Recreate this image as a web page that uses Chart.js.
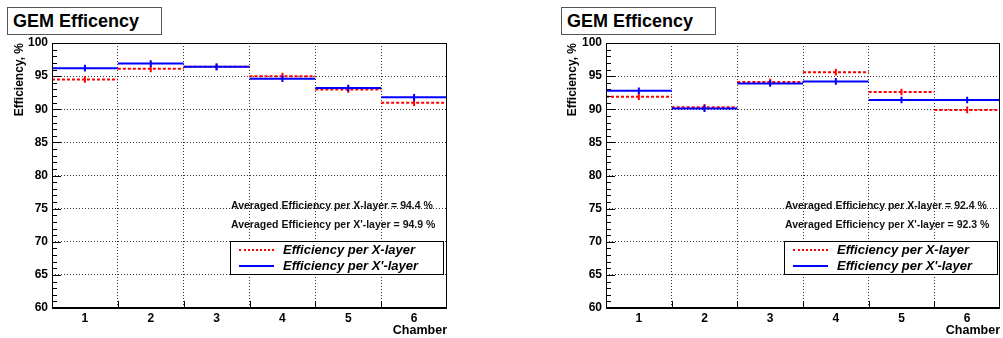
<!DOCTYPE html>
<html>
<head>
<meta charset="utf-8">
<script src="https://cdn.jsdelivr.net/npm/chart.js@4/dist/chart.umd.min.js"></script>
<style>
  body { margin: 0; background: #fff; width: 1003px; height: 338px; overflow: hidden; position: relative;
         font-family: "Liberation Sans", Arial, Helvetica, sans-serif; }
  canvas { position: absolute; top: 0; }
  .titlebox { position: absolute; top: 7px; width: 148px; height: 26px; border: 1px solid #555;
              font-weight: bold; font-size: 18px; line-height: 27px; padding-left: 5px; box-sizing: content-box; background: #fff; }
  .note { position: absolute; font-weight: bold; font-size: 10.5px; white-space: nowrap; color: #111; }
  .legend { position: absolute; top: 241px; height: 32px; border: 1px solid #000; background: #fff; }
  .legend .row { position: absolute; left: 0; height: 16px; width: 100%; }
  .legend .sample { position: absolute; left: 8px; top: 7px; width: 35px; height: 0; }
  .legend .txt { position: absolute; left: 52px; top: 0; font-weight: bold; font-style: italic; font-size: 13px; line-height: 16px; white-space: nowrap; }
</style>
</head>
<body>
<canvas id="cLeft" width="500" height="338" style="left:0px"></canvas>
<canvas id="cRight" width="450" height="338" style="left:553px"></canvas>

<div class="titlebox" style="left:7px">GEM Efficency</div>
<div class="titlebox" style="left:561px">GEM Efficency</div>

<div id="notes"></div>

<script>
// chambers (bins)
const chambers = [1, 2, 3, 4, 5, 6];
const yTicks = [60, 65, 70, 75, 80, 85, 90, 95, 100];

// left panel
const leftEffX = [94.5, 96.1, 96.4, 95.0, 93.0, 91.0];
const leftEffXp = [96.2, 96.9, 96.4, 94.6, 93.2, 91.8];
const leftErrX = [0.5, 0.5, 0.5, 0.5, 0.5, 0.5];
const leftErrXp = [0.5, 0.5, 0.5, 0.5, 0.5, 0.5];
const leftAvgX = "94.4";
const leftAvgXp = "94.9";

// right panel
const rightEffX = [91.9, 90.3, 94.1, 95.6, 92.6, 89.9];
const rightEffXp = [92.8, 90.1, 93.9, 94.2, 91.4, 91.4];
const rightErrX = [0.5, 0.5, 0.5, 0.5, 0.5, 0.5];
const rightErrXp = [0.5, 0.5, 0.5, 0.5, 0.5, 0.5];
const rightAvgX = "92.4";
const rightAvgXp = "92.3";

const FONT = '"Liberation Sans", Arial, Helvetica, sans-serif';
const RED = '#ff0000';
const BLUE = '#0000ff';

// horizontal histogram segments, no vertical connectors
function steps(vals) {
  const pts = [];
  vals.forEach((v, i) => {
    pts.push({x: chambers[i] - 0.5, y: v}, {x: chambers[i] + 0.5, y: v}, {x: chambers[i] + 0.5, y: null});
  });
  return pts;
}

function errBars(vals, errs) {
  const pts = [];
  vals.forEach((v, i) => {
    pts.push({x: chambers[i], y: v - errs[i]}, {x: chambers[i], y: v + errs[i]}, {x: chambers[i], y: null});
  });
  return pts;
}

// frame + inside ticks like ROOT
const rootFrame = {
  id: 'rootFrame',
  afterDatasetsDraw(chart) {
    const {ctx, chartArea: a, scales} = chart;
    const x = scales.x, y = scales.y;
    ctx.save();
    ctx.strokeStyle = '#000';
    ctx.lineWidth = 1;
    ctx.beginPath();
    for (let v = y.min; v <= y.max; v++) {
      const py = Math.round(y.getPixelForValue(v)) + 0.5;
      const len = v % 5 === 0 ? 9 : 5;
      ctx.moveTo(a.left, py);
      ctx.lineTo(a.left + len, py);
    }
    for (let i = 1; i < chambers.length; i++) {
      const px = Math.round(x.getPixelForValue(chambers[i] - 0.5)) + 0.5;
      ctx.moveTo(px, a.bottom);
      ctx.lineTo(px, a.bottom - 7);
    }
    ctx.stroke();
    ctx.strokeRect(Math.round(a.left) + 0.5, Math.round(a.top) + 0.5,
                   Math.round(a.right - a.left) - 1, Math.round(a.bottom - a.top) - 1);
    ctx.lineWidth = 2;
    ctx.beginPath();
    ctx.moveTo(a.left, Math.round(a.bottom));
    ctx.lineTo(a.right, Math.round(a.bottom));
    ctx.stroke();
    ctx.restore();
  }
};

function makePanel(id, effX, effXp, errX, errXp, yWidth, padRight) {
  const plotWidth = document.getElementById(id).width - yWidth - padRight;
  const halfBin = plotWidth / chambers.length / 2;
  const edges = [chambers[0] - 0.5].concat(chambers.map(c => c + 0.5));

  return new Chart(document.getElementById(id), {
    type: 'line',
    data: {
      datasets: [
        { label: "Efficiency per X'-layer", data: steps(effXp), borderColor: BLUE, borderWidth: 2,
          pointRadius: 0, spanGaps: false, order: 0 },
        { label: "X' errors", data: errBars(effXp, errXp), borderColor: BLUE, borderWidth: 2,
          pointRadius: 0, spanGaps: false, order: 0 },
        { label: 'Efficiency per X-layer', data: steps(effX), borderColor: RED, borderWidth: 2,
          borderDash: [3, 2], pointRadius: 0, spanGaps: false, order: 1 },
        { label: 'X errors', data: errBars(effX, errX), borderColor: RED, borderWidth: 2,
          pointRadius: 0, spanGaps: false, order: 1 }
      ]
    },
    options: {
      responsive: false,
      animation: false,
      devicePixelRatio: 1,
      layout: { padding: { top: 43, right: padRight, left: 0, bottom: 0 } },
      plugins: { legend: { display: false }, tooltip: { enabled: false } },
      scales: {
        x: {
          type: 'linear',
          min: edges[0],
          max: edges[edges.length - 1],
          afterBuildTicks: s => { s.ticks = edges.map(v => ({value: v})); },
          afterFit: s => { s.height = 30; },
          ticks: {
            autoSkip: false,
            maxRotation: 0,
            labelOffset: halfBin,
            padding: 3,
            color: '#000',
            font: { family: FONT, size: 12, weight: 'bold' },
            callback: v => (v < edges[edges.length - 1] ? String(v + 0.5) : '')
          },
          grid: {
            drawTicks: false,
            lineWidth: 1,
            color: ctx => (ctx.tick && (ctx.tick.value === edges[0] || ctx.tick.value === edges[edges.length - 1]))
              ? 'rgba(0,0,0,0)' : '#333'
          },
          border: { display: false, dash: [1, 2] },
          title: {
            display: true, text: 'Chamber', align: 'end', color: '#000',
            font: { family: FONT, size: 12.5, weight: 'bold' }, padding: { top: 2, bottom: 0 }
          }
        },
        y: {
          min: yTicks[0],
          max: yTicks[yTicks.length - 1],
          afterBuildTicks: s => { s.ticks = yTicks.map(v => ({value: v})); },
          afterFit: s => { s.width = yWidth; },
          ticks: {
            padding: 4,
            color: '#000',
            font: { family: FONT, size: 12, weight: 'bold' }
          },
          grid: {
            drawTicks: false,
            lineWidth: 1,
            color: ctx => (ctx.tick && (ctx.tick.value === yTicks[0] || ctx.tick.value === yTicks[yTicks.length - 1]))
              ? 'rgba(0,0,0,0)' : '#333'
          },
          border: { display: false, dash: [1, 2] },
          title: {
            display: true, text: 'Efficiency, %', align: 'end', color: '#000',
            font: { family: FONT, size: 12, weight: 'bold' }, padding: { top: 12, bottom: 0 }
          }
        }
      }
    },
    plugins: [rootFrame]
  });
}

makePanel('cLeft', leftEffX, leftEffXp, leftErrX, leftErrXp, 52, 53);
makePanel('cRight', rightEffX, rightEffXp, rightErrX, rightErrXp, 53, 3);

// averaged text and legend boxes
function addNotes(left, legLeft, avgX, avgXp) {
  const box = document.getElementById('notes');
  box.insertAdjacentHTML('beforeend',
    '<div class="note" style="left:' + left + 'px;top:199px">Averaged Efficiency per X-layer = ' + avgX + ' %</div>' +
    '<div class="note" style="left:' + left + 'px;top:218px">Averaged Efficiency per X\'-layer = ' + avgXp + ' %</div>' +
    '<div class="legend" style="left:' + legLeft + 'px;width:212px">' +
      '<div class="row" style="top:0px"><div class="sample" style="border-top:2px dotted ' + RED + '"></div>' +
        '<div class="txt">Efficiency per X-layer</div></div>' +
      '<div class="row" style="top:16px"><div class="sample" style="border-top:2px solid ' + BLUE + '"></div>' +
        '<div class="txt">Efficiency per X\'-layer</div></div>' +
    '</div>');
}
addNotes(231, 230, leftAvgX, leftAvgXp);
addNotes(785, 784, rightAvgX, rightAvgXp);
</script>
</body>
</html>
